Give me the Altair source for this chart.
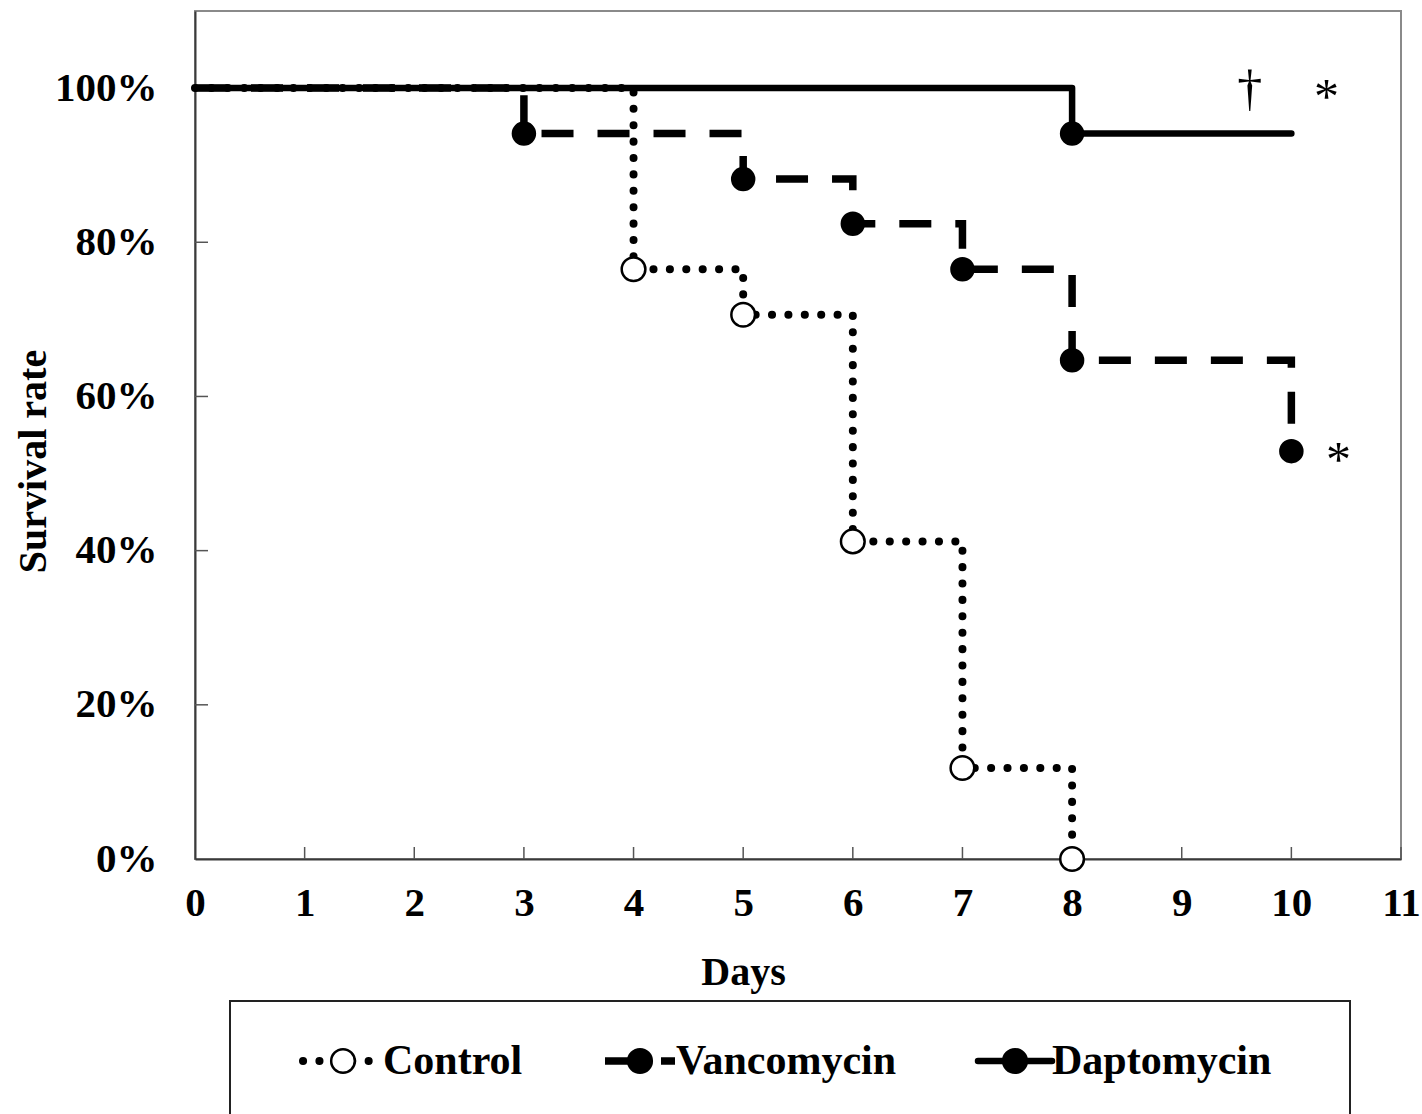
import altair as alt
import pandas as pd

# ---------------- data ----------------
groups = ["Control", "Vancomycin", "Daptomycin"]

days_control = [0, 4, 5, 6, 7, 8]
surv_control = [1.0, 0.765, 0.706, 0.412, 0.118, 0.0]

days_vanco = [0, 3, 5, 6, 7, 8, 10]
surv_vanco = [1.0, 0.941, 0.882, 0.824, 0.765, 0.647, 0.529]

days_dapto = [0, 8, 10]
surv_dapto = [1.0, 0.941, 0.941]

marker_days_control = [4, 5, 6, 7, 8]
marker_days_vanco = [3, 5, 6, 7, 8, 10]
marker_days_dapto = [8]

x_ticks = list(range(12))
y_ticks = [0.0, 0.2, 0.4, 0.6, 0.8, 1.0]

annot_text = ["\u2020", "*", "*"]
annot_x = [9.62, 10.32, 10.43]
annot_y = [0.997, 0.987, 0.516]

FONT = "Liberation Serif"
W, H = 1206, 848


def series_df(days, surv):
    return pd.DataFrame({"day": days, "surv": surv})


def marker_df(days, surv, marks):
    lookup = dict(zip(days, surv))
    return pd.DataFrame({"day": marks, "surv": [lookup[d] for d in marks]})


xscale = alt.Scale(domain=[0, 11], nice=False, zero=False)
yscale = alt.Scale(domain=[0, 1.1], nice=False)

xaxis = alt.Axis(values=x_ticks, tickSize=0, grid=False, labelFont=FONT,
                 labelFontSize=41, labelFontWeight="bold", labelColor="black",
                 labelPadding=24, labelFlush=False, domainColor="#3a3a3a",
                 domainWidth=2, title="Days", titleFont=FONT, titleFontSize=40,
                 titleFontWeight="bold", titleColor="black",
                 titleX=548, titleY=113, titleBaseline="middle")
yaxis = alt.Axis(values=y_ticks, format=".0%", tickSize=0, grid=False,
                 labelFont=FONT, labelFontSize=41, labelFontWeight="bold",
                 labelColor="black", labelPadding=38, labelFlush=False,
                 labelBaseline="middle", domainColor="#3a3a3a", domainWidth=2,
                 title="Survival rate", titleFont=FONT, titleFontSize=40,
                 titleFontWeight="bold", titleColor="black", titleAngle=-90,
                 titleX=-162, titleY=450, titleBaseline="middle",
                 titleAlign="center")

X = lambda: alt.X("day:Q", scale=xscale, axis=xaxis)
Y = lambda: alt.Y("surv:Q", scale=yscale, axis=yaxis)

# inner tick marks
xt = alt.Chart(pd.DataFrame({"t": x_ticks[1:]})).mark_rule(
    color="#555", strokeWidth=1.5).encode(
    x=alt.X("t:Q", scale=xscale, axis=xaxis),
    y=alt.value(H), y2=alt.value(H - 12))
yt = alt.Chart(pd.DataFrame({"t": y_ticks[1:]})).mark_rule(
    color="#555", strokeWidth=1.5).encode(
    y=alt.Y("t:Q", scale=yscale, axis=yaxis),
    x=alt.value(0), x2=alt.value(13))

line_c = alt.Chart(series_df(days_control, surv_control)).mark_line(
    interpolate="step-after", color="black", strokeWidth=8,
    strokeDash=[0.1, 16.3], strokeCap="round").encode(x=X(), y=Y())
line_v = alt.Chart(series_df(days_vanco, surv_vanco)).mark_line(
    interpolate="step-after", color="black", strokeWidth=7.5,
    strokeDash=[32, 24]).encode(x=X(), y=Y())
line_d = alt.Chart(series_df(days_dapto, surv_dapto)).mark_line(
    interpolate="step-after", color="black", strokeWidth=6.5,
    strokeCap="round", strokeJoin="round").encode(x=X(), y=Y())

pts_c = alt.Chart(marker_df(days_control, surv_control, marker_days_control)).mark_point(
    shape="circle", size=560, filled=True, fill="white", stroke="black",
    strokeWidth=2.5, opacity=1).encode(x=X(), y=Y())
pts_v = alt.Chart(marker_df(days_vanco, surv_vanco, marker_days_vanco)).mark_point(
    shape="circle", size=600, filled=True, fill="black", opacity=1).encode(x=X(), y=Y())
pts_d = alt.Chart(marker_df(days_dapto, surv_dapto, marker_days_dapto)).mark_point(
    shape="circle", size=600, filled=True, fill="black", opacity=1).encode(x=X(), y=Y())

ann = alt.Chart(pd.DataFrame({"t": annot_text, "day": annot_x, "surv": annot_y})).mark_text(
    font=FONT, fontSize=50, color="black", baseline="middle", align="center").encode(
    x=X(), y=Y(), text="t:N")

main = alt.layer(xt, yt, line_c, line_v, line_d, pts_c, pts_v, pts_d, ann).properties(
    width=W, height=H, view=alt.ViewBackground(stroke="#8a8a8a", strokeWidth=2))

# ---------------- custom legend ----------------
LH = 116
box_x = [35, 1155]
leg_line_x1 = [108, 410, 783]
leg_line_x2 = [188, 480, 857]
leg_circle_x = [148, 445, 820]
leg_text_x = [188, 481, 857]
leg_y = 60

lx = alt.Scale(domain=[0, W], nice=False, zero=False)
ly = alt.Scale(domain=[0, LH], nice=False, zero=False, reverse=True)

leg = pd.DataFrame({"g": groups, "x1": leg_line_x1, "x2": leg_line_x2,
                    "cx": leg_circle_x, "tx": leg_text_x, "y": [leg_y] * 3})
dashes = {"Control": [0.1, 16.3], "Vancomycin": [32, 24], "Daptomycin": [1, 0]}
caps = {"Control": "round", "Vancomycin": "butt", "Daptomycin": "round"}
widths = {"Control": 8, "Vancomycin": 7.5, "Daptomycin": 6.5}

box = alt.Chart(pd.DataFrame({"x1": [box_x[0]], "x2": [box_x[1]],
                              "y1": [0], "y2": [LH]})).mark_rect(
    fill="white", stroke="#222", strokeWidth=2).encode(
    x=alt.X("x1:Q", scale=lx, axis=None), x2="x2:Q",
    y=alt.Y("y1:Q", scale=ly, axis=None), y2="y2:Q")

leg_layers = [box]
for g in groups:
    sub = leg[leg.g == g]
    leg_layers.append(alt.Chart(sub).mark_rule(
        color="black", strokeWidth=widths[g], strokeDash=dashes[g],
        strokeCap=caps[g]).encode(
        x=alt.X("x1:Q", scale=lx, axis=None), x2="x2:Q",
        y=alt.Y("y:Q", scale=ly, axis=None)))
for g in groups:
    sub = leg[leg.g == g]
    fill = "white" if g == "Control" else "black"
    leg_layers.append(alt.Chart(sub).mark_point(
        shape="circle", size=560, filled=True, fill=fill, stroke="black",
        strokeWidth=2.5, opacity=1).encode(
        x=alt.X("cx:Q", scale=lx, axis=None),
        y=alt.Y("y:Q", scale=ly, axis=None)))
leg_layers.append(alt.Chart(leg).mark_text(
    font=FONT, fontSize=42, fontWeight="bold", color="black",
    align="left", baseline="middle").encode(
    x=alt.X("tx:Q", scale=lx, axis=None),
    y=alt.Y("y:Q", scale=ly, axis=None), text="g:N"))

legend = alt.layer(*leg_layers).properties(
    width=W, height=LH, view=alt.ViewBackground(stroke="transparent"))

chart = alt.vconcat(main, legend, spacing=6).properties(
    padding={"left": 12, "top": 10, "right": 0, "bottom": 0},
    background="white")

chart.save("out.html", embed_options={"renderer": "svg", "actions": False})
